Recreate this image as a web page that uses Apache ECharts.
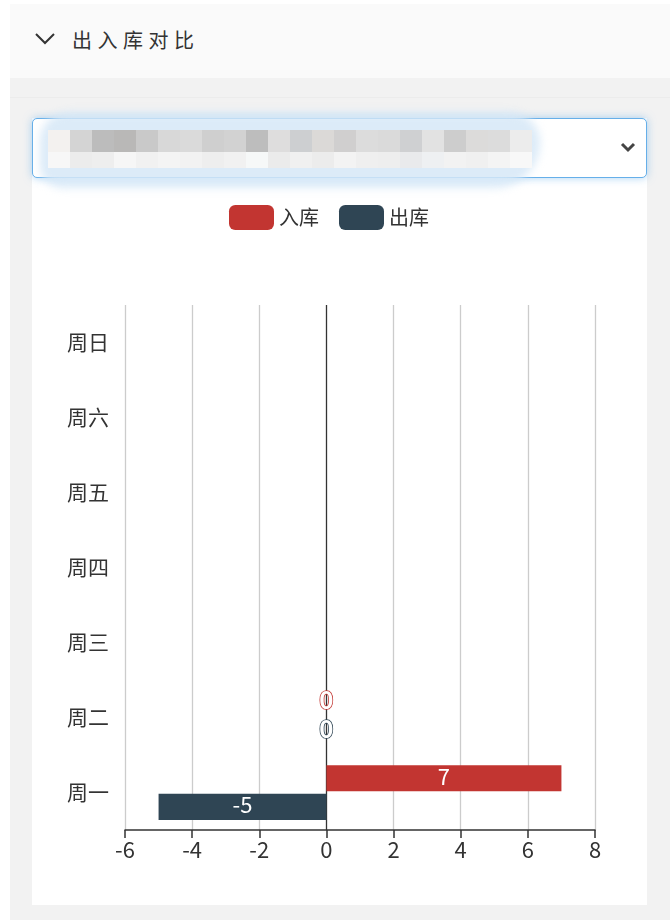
<!DOCTYPE html>
<html>
<head>
<meta charset="utf-8">
<script src="https://cdn.jsdelivr.net/npm/echarts@6/dist/echarts.min.js"></script>
<style>
  html, body { margin: 0; padding: 0; background: #ffffff; width: 670px; height: 922px; overflow: hidden; font-family: "Noto Sans CJK SC", "Noto Sans", sans-serif; }
  #page { position: absolute; left: 10px; top: 4px; width: 660px; height: 916px; background: #f2f2f2; }
  #header { position: absolute; left: 10px; top: 4px; width: 660px; height: 74px; background: #fafafa; }
  #chev { position: absolute; left: 24px; top: 27px; }
  #title { position: absolute; left: 62px; top: 22px; font-size: 20px; letter-spacing: 5.5px; color: #333; line-height: 28px; }
  #band { position: absolute; left: 10px; top: 97px; width: 660px; height: 1px; background: #ececec; }
  #card { position: absolute; left: 32px; top: 118px; width: 615px; height: 787px; background: #ffffff; }
  #select { position: absolute; left: 32px; top: 118px; width: 613px; height: 58px; border: 1px solid #66afe9; border-radius: 5px; background: #fff; box-shadow: 0 0 8px rgba(102,175,233,0.55); }
  #blob { position: absolute; left: 40px; top: 112px; width: 500px; height: 76px; border-radius: 38px 40px 60px 30px; background: rgba(214,232,247,0.85); filter: blur(4px); }
  #mosaic { position: absolute; left: 32px; top: 118px; }
  .px { position: absolute; height: 22px; }
  .px2 { position: absolute; height: 16px; }
  #arrow { position: absolute; left: 618px; top: 137px; }
  #chart { position: absolute; left: 32px; top: 178px; width: 615px; height: 727px; }
</style>
</head>
<body>
<div id="page"></div>
<div id="header">
  <svg id="chev" width="22" height="16" viewBox="0 0 22 16"><polyline points="2,3 11,12 20,3" fill="none" stroke="#333" stroke-width="2"/></svg>
  <div id="title">出入库对比</div>
</div>
<div id="band"></div>
<div id="card"></div>
<div id="select"></div>
<div id="blob"></div>
<div id="mosaic"></div>
<svg id="arrow" width="20" height="20" viewBox="0 0 20 20"><polyline points="4,7 10,13 16,7" fill="none" stroke="#444" stroke-width="3"/></svg>
<div id="chart"></div>
<script>
// decorative blurred select content (mosaic blocks)
var topShades = ['#f3f1ef','#d4d4d4','#bcbcbc','#b9b8b7','#c9c9c9','#d8d8d8','#dadada','#cfcfcf','#d2d2d2','#bdbdbd','#dedddd','#cdcfd1','#dbd9d7','#d0cfcf','#dcdcdc','#dadada','#cfd0d2','#e2e2e2','#cdcdcd','#dcdbda','#dcdcdc','#ececec'];
var botShades = ['#f7f7f7','#ececec','#eeeeee','#f6f6f6','#f1f1f1','#f4f4f4','#f2f2f2','#eeeeee','#f1f1f1','#f6f8f8','#ebebeb','#f0f0f0','#ececec','#f3f3f3','#efefef','#eeeeee','#e9eaec','#eef0f2','#f2f2f2','#f0f0f0','#f4f4f4','#f8f8f8'];
var mosaic = document.getElementById('mosaic');
for (var i = 0; i < topShades.length; i++) {
  var a = document.createElement('div'); a.className = 'px';
  a.style.left = (16 + i * 22) + 'px'; a.style.top = '12px'; a.style.width = '22px'; a.style.background = topShades[i];
  mosaic.appendChild(a);
  var b = document.createElement('div'); b.className = 'px2';
  b.style.left = (16 + i * 22) + 'px'; b.style.top = '34px'; b.style.width = '22px'; b.style.background = botShades[i];
  mosaic.appendChild(b);
}

// ---- chart data ----
var categories = ['周一', '周二', '周三', '周四', '周五', '周六', '周日'];
var inbound = [7, 0, '-', '-', '-', '-', '-'];
var outbound = [-5, 0, '-', '-', '-', '-', '-'];
var seriesNames = ['入库', '出库'];
var xMin = -6, xMax = 8, xInterval = 2;

var colors = ['#c23531', '#2f4554'];
var FONT = '"Noto Sans CJK SC", "Noto Sans", sans-serif';
var chart = echarts.init(document.getElementById('chart'));

// split line colours: dark at zero
var splitColors = [];
for (var v = xMin; v <= xMax; v += xInterval) splitColors.push(v === 0 ? '#333' : '#ccc');

function labelFor(c) {
  return { show: true, position: 'inside', color: '#fff', fontSize: 22, fontFamily: FONT,
           textBorderColor: c, textBorderWidth: 2, overflow: 'none', offset: [0, -2] };
}
// zero-length bars: label drawn as white glyph with coloured outline (bolder so the fill shows)
function items(arr) {
  return arr.map(function (val) {
    if (val === 0) return { value: val, label: { fontWeight: 'bold', fontSize: 24, textBorderWidth: 1.6, offset: [0, -3] } };
    return val;
  });
}

chart.setOption({
  animation: false,
  color: colors,
  legend: {
    data: seriesNames,
    top: 22, left: 192,
    itemWidth: 45, itemHeight: 25, itemGap: 20,
    textStyle: { fontSize: 20, color: '#333', fontFamily: FONT }
  },
  grid: { left: 93, right: 52, top: 127, bottom: 75, containLabel: false },
  xAxis: {
    type: 'value', min: xMin, max: xMax, interval: xInterval,
    axisLine: { show: true, onZero: false, lineStyle: { color: '#333', width: 1.5 } },
    axisTick: { show: true, length: 8, lineStyle: { color: '#333', width: 1.5 } },
    axisLabel: { fontSize: 22, color: '#333', margin: 9, fontFamily: FONT },
    splitLine: { show: true, lineStyle: { color: splitColors, width: 1.3 } }
  },
  yAxis: {
    type: 'category', data: categories,
    axisLine: { show: false },
    axisTick: { show: false },
    axisLabel: { fontSize: 21, color: '#333', margin: 16, fontFamily: FONT },
    splitLine: { show: false }
  },
  series: [
    { name: seriesNames[0], type: 'bar', data: items(inbound), label: labelFor(colors[0]) },
    { name: seriesNames[1], type: 'bar', data: items(outbound), label: labelFor(colors[1]) }
  ]
});
</script>
</body>
</html>
